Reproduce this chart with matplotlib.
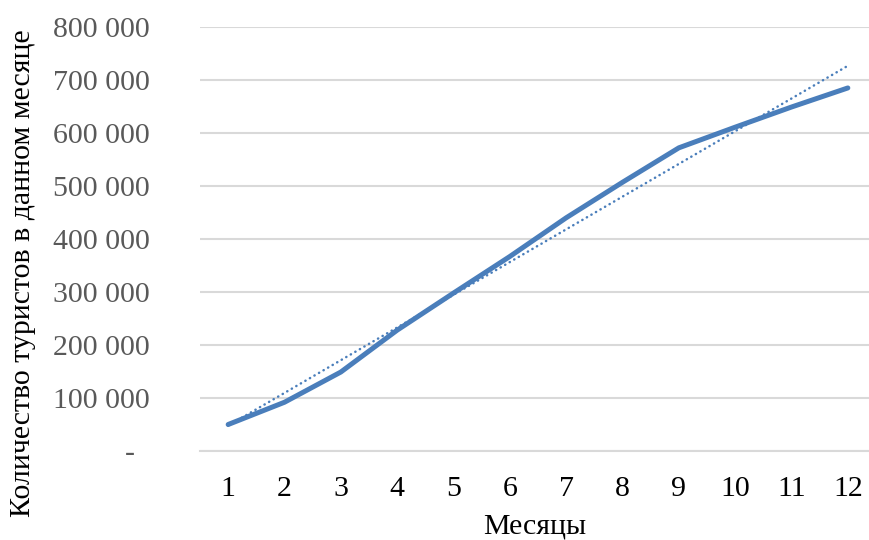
import matplotlib
matplotlib.use('Agg')
import numpy as np
import matplotlib.pyplot as plt
from matplotlib.ticker import FuncFormatter, MultipleLocator

# Data
months = [1, 2, 3, 4, 5, 6, 7, 8, 9, 10, 11, 12]
tourists = [50000, 92000, 149000, 228000, 298000, 367000,
            440000, 507000, 572000, 611000, 649000, 685000]

x_label = 'Месяцы'
y_label = 'Количество туристов в данном месяце'

colors = {
    'line': '#4a7ebb',
    'grid': '#d9d9d9',
    'tick_y': '#595959',
    'tick_x': '#000000',
}

plt.rcParams['font.family'] = ['Liberation Serif', 'DejaVu Serif']


def fmt_thousands(v, pos):
    if v == 0:
        return '-  '
    return f'{int(v):,}'.replace(',', ' ')


def main():
    fig = plt.figure(figsize=(8.69, 5.40), dpi=100)
    ax = fig.add_axes([200 / 869, 1 - 451 / 540, 669 / 869, (451 - 27) / 540])

    x = np.array(months)
    y = np.array(tourists)

    ax.plot(x, y, color=colors['line'], linewidth=3.6, solid_capstyle='round', zorder=3)

    # linear trendline
    k, b = np.polyfit(x, y, 1)
    ax.plot(x, k * x + b, color=colors['line'], linewidth=1.8,
            linestyle=(0, (0.1, 2.0)), dash_capstyle='round', zorder=2)

    ax.set_xlim(0.5, 12.5 - 7 / 56.4)
    ax.set_ylim(0, 800000)
    ax.set_xticks(months)
    ax.yaxis.set_major_locator(MultipleLocator(100000))
    ax.yaxis.set_major_formatter(FuncFormatter(fmt_thousands))

    ax.grid(True, axis='y', color=colors['grid'], linewidth=1.5)
    ax.set_axisbelow(True)
    for side in ['top', 'right', 'left']:
        ax.spines[side].set_visible(False)
    ax.spines['bottom'].set_color(colors['grid'])
    ax.spines['bottom'].set_linewidth(1.5)

    ax.tick_params(axis='y', length=0, pad=36, labelsize=21.5, labelcolor=colors['tick_y'])
    ax.tick_params(axis='x', length=0, pad=18, labelsize=21.5, labelcolor=colors['tick_x'])

    ax.set_xlabel(x_label, fontsize=21.5, labelpad=8)
    fig.text(23 / 869, 1 - 273 / 540, y_label, rotation=90, fontsize=21.5,
             ha='center', va='center')

    fig.savefig('out.png', dpi=100)


if __name__ == "__main__":
    main()
